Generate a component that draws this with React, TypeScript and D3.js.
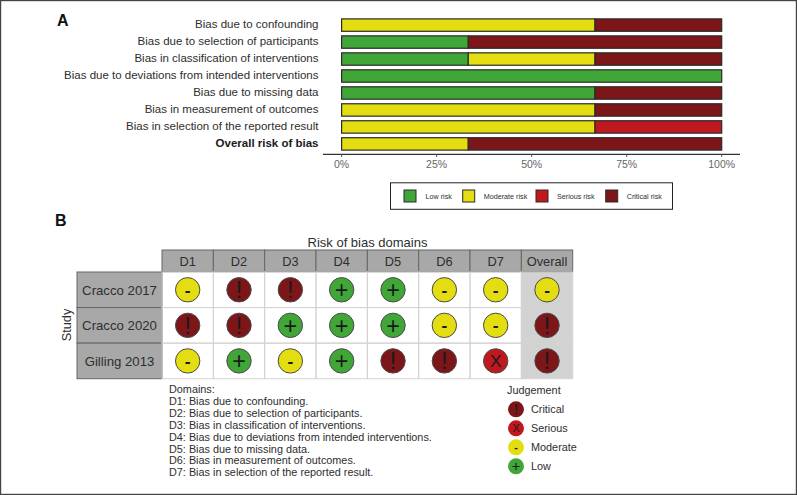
import React from "react";
import * as d3 from "d3";

const domainsA = [
  "Bias due to confounding",
  "Bias due to selection of participants",
  "Bias in classification of interventions",
  "Bias due to deviations from intended interventions",
  "Bias due to missing data",
  "Bias in measurement of outcomes",
  "Bias in selection of the reported result",
  "Overall risk of bias",
];
const lowCounts = [0, 1, 1, 3, 2, 0, 0, 0];
const moderateCounts = [2, 0, 1, 0, 0, 2, 2, 1];
const seriousCounts = [0, 0, 0, 0, 0, 0, 1, 0];
const criticalCounts = [1, 2, 1, 0, 1, 1, 0, 2];
const percentTicks = [0, 25, 50, 75, 100];
const riskKeys = ["low", "moderate", "serious", "critical"];
const riskLabels = ["Low risk", "Moderate risk", "Serious risk", "Critical risk"];

const studies = ["Cracco 2017", "Cracco 2020", "Gilling 2013"];
const columns = ["D1", "D2", "D3", "D4", "D5", "D6", "D7", "Overall"];
const cracco2017 = ["moderate", "critical", "critical", "low", "low", "moderate", "moderate", "moderate"];
const cracco2020 = ["critical", "critical", "low", "low", "low", "moderate", "moderate", "critical"];
const gilling2013 = ["moderate", "low", "moderate", "low", "critical", "critical", "serious", "critical"];
const judgements = [cracco2017, cracco2020, gilling2013];
const domainNotes = [
  "Domains:",
  "D1: Bias due to confounding.",
  "D2: Bias due to selection of participants.",
  "D3: Bias in classification of interventions.",
  "D4: Bias due to deviations from intended interventions.",
  "D5: Bias due to missing data.",
  "D6: Bias in measurement of outcomes.",
  "D7: Bias in selection of the reported result.",
];
const judgementKeys = ["critical", "serious", "moderate", "low"];
const judgementLabels = ["Critical", "Serious", "Moderate", "Low"];

const colors: Record<string, string> = {
  low: "#40a637",
  moderate: "#e4dd12",
  serious: "#c0181f",
  critical: "#7c1619",
};
const symbols: Record<string, string> = { low: "+", moderate: "-", serious: "X", critical: "!" };
const symbolScale: Record<string, number> = { low: 1.95, moderate: 1.45, serious: 1.45, critical: 1.95 };
const FONT = "'Liberation Sans', Arial, sans-serif";
const TEXT = "#2e2e2e";

const x = d3.scaleLinear().domain([0, 100]).range([341.6, 721.7]);
const y = d3.scaleBand<number>().domain(d3.range(domainsA.length)).range([16.6, 152.4]).paddingInner(0.27).paddingOuter(0.135);
const stackRows = domainsA.map((_, i) => ({
  low: (lowCounts[i] / 3) * 100,
  moderate: (moderateCounts[i] / 3) * 100,
  serious: (seriousCounts[i] / 3) * 100,
  critical: (criticalCounts[i] / 3) * 100,
}));
const stacked = d3.stack<any>().keys(riskKeys)(stackRows);

const colX = d3.scaleBand<string>().domain(columns).range([162, 572.7]);
const rowY = d3.scaleBand<string>().domain(studies).range([272, 378.7]);

const legendSwatchX = [404, 462.7, 536, 605.7];
const legendTextX = [425.5, 483.7, 557, 626.7];

function Light({ cx, cy, r, k, unit, outline }: { cx: number; cy: number; r: number; k: string; unit: number; outline: boolean }) {
  return (
    <g>
      <circle cx={cx} cy={cy} r={r} fill={colors[k]} stroke={outline ? "#4a4a4a" : "none"} strokeWidth={outline ? 1 : 0} />
      <text
        x={cx}
        y={cy}
        dy="0.35em"
        textAnchor="middle"
        fontSize={unit * symbolScale[k]}
        fontWeight={k === "moderate" ? "bold" : "normal"}
        fill="#1a1a1a"
        fontFamily={FONT}
      >
        {symbols[k]}
      </text>
    </g>
  );
}

export default function App() {
  return (
    <svg width={797} height={495} style={{ position: "fixed", left: 0, top: 0, background: "#fff" }} fontFamily={FONT}>
      <rect x={0.5} y={0.5} width={796} height={494} fill="#fff" stroke="#444" strokeWidth={1.4} />
      <text x={57} y={25.5} fontSize={16} fontWeight="bold" fill="#111">A</text>
      <text x={55} y={225.5} fontSize={16} fontWeight="bold" fill="#111">B</text>

      {domainsA.map((d, i) => (
        <text
          key={d}
          x={318.5}
          y={y(i)! + y.bandwidth() / 2 - 1}
          dy="0.35em"
          textAnchor="end"
          fontSize={11.5}
          fontWeight={i === domainsA.length - 1 ? "bold" : "normal"}
          fill={i === domainsA.length - 1 ? "#1a1a1a" : TEXT}
        >
          {d}
        </text>
      ))}

      {stacked.map((s) =>
        s.map((seg, i) =>
          seg[1] - seg[0] > 0 ? (
            <rect
              key={s.key + i}
              x={x(seg[0])}
              y={y(i)!}
              width={x(seg[1]) - x(seg[0])}
              height={y.bandwidth()}
              fill={colors[s.key]}
              stroke="#2b2b2b"
              strokeWidth={1.2}
            />
          ) : null
        )
      )}

      <line x1={323} x2={740} y1={154.3} y2={154.3} stroke="#333" strokeWidth={1.2} />
      {percentTicks.map((t) => (
        <g key={t}>
          <line x1={x(t)} x2={x(t)} y1={154.3} y2={157} stroke="#555" strokeWidth={1} />
          <text x={x(t)} y={168} textAnchor="middle" fontSize={10.5} fill="#666">{t}%</text>
        </g>
      ))}

      <rect x={390.5} y={182.8} width={282} height={26.5} fill="#fff" stroke="#222" strokeWidth={1} />
      {riskKeys.map((k, i) => (
        <g key={k}>
          <rect x={legendSwatchX[i]} y={190} width={12} height={12} fill={colors[k]} stroke="#2b2b2b" strokeWidth={1} />
          <text x={legendTextX[i]} y={196.5} dy="0.35em" fontSize={7.2} fill={TEXT}>{riskLabels[i]}</text>
        </g>
      ))}

      <text x={367.5} y={246.5} textAnchor="middle" fontSize={13} fill={TEXT}>Risk of bias domains</text>
      <text transform="translate(71,325) rotate(-90)" textAnchor="middle" fontSize={12.8} fill={TEXT}>Study</text>

      <rect x={colX("Overall")} y={272} width={colX.bandwidth()} height={106.7} fill="#d2d2d2" />
      {columns.map((c) => (
        <g key={c}>
          <rect x={colX(c)} y={250} width={colX.bandwidth()} height={21.7} fill="#a8a8a8" stroke="#666" strokeWidth={1} />
          <text x={colX(c)! + colX.bandwidth() / 2} y={261} dy="0.36em" textAnchor="middle" fontSize={12.8} fill={TEXT}>{c}</text>
        </g>
      ))}
      {studies.map((s) => (
        <g key={s}>
          <rect x={77} y={rowY(s)} width={85} height={rowY.bandwidth()} fill="#a8a8a8" stroke="#666" strokeWidth={1} />
          <text x={119.5} y={rowY(s)! + rowY.bandwidth() / 2} dy="0.36em" textAnchor="middle" fontSize={13.2} fill={TEXT}>{s}</text>
        </g>
      ))}
      {studies.map((s) =>
        columns.map((c) => (
          <rect key={s + c} x={colX(c)} y={rowY(s)} width={colX.bandwidth()} height={rowY.bandwidth()} fill="none" stroke="#d6d2d0" strokeWidth={1} />
        ))
      )}
      {studies.map((s, r) =>
        columns.map((c, j) => (
          <Light
            key={s + c + "l"}
            cx={colX(c)! + colX.bandwidth() / 2}
            cy={rowY(s)! + rowY.bandwidth() / 2}
            r={12.2}
            k={judgements[r][j]}
            unit={12}
            outline
          />
        ))
      )}

      {domainNotes.map((d, i) => (
        <text key={d} x={169} y={393 + i * 11.9} fontSize={10.85} fill={TEXT}>{d}</text>
      ))}

      <text x={507} y={394} fontSize={10.85} fill={TEXT}>Judgement</text>
      {judgementKeys.map((k, i) => (
        <g key={k}>
          <Light cx={516} cy={409.3 + i * 19} r={8} k={k} unit={7.5} outline={false} />
          <text x={531} y={409.3 + i * 19} dy="0.35em" fontSize={10.85} fill={TEXT}>{judgementLabels[i]}</text>
        </g>
      ))}
    </svg>
  );
}
